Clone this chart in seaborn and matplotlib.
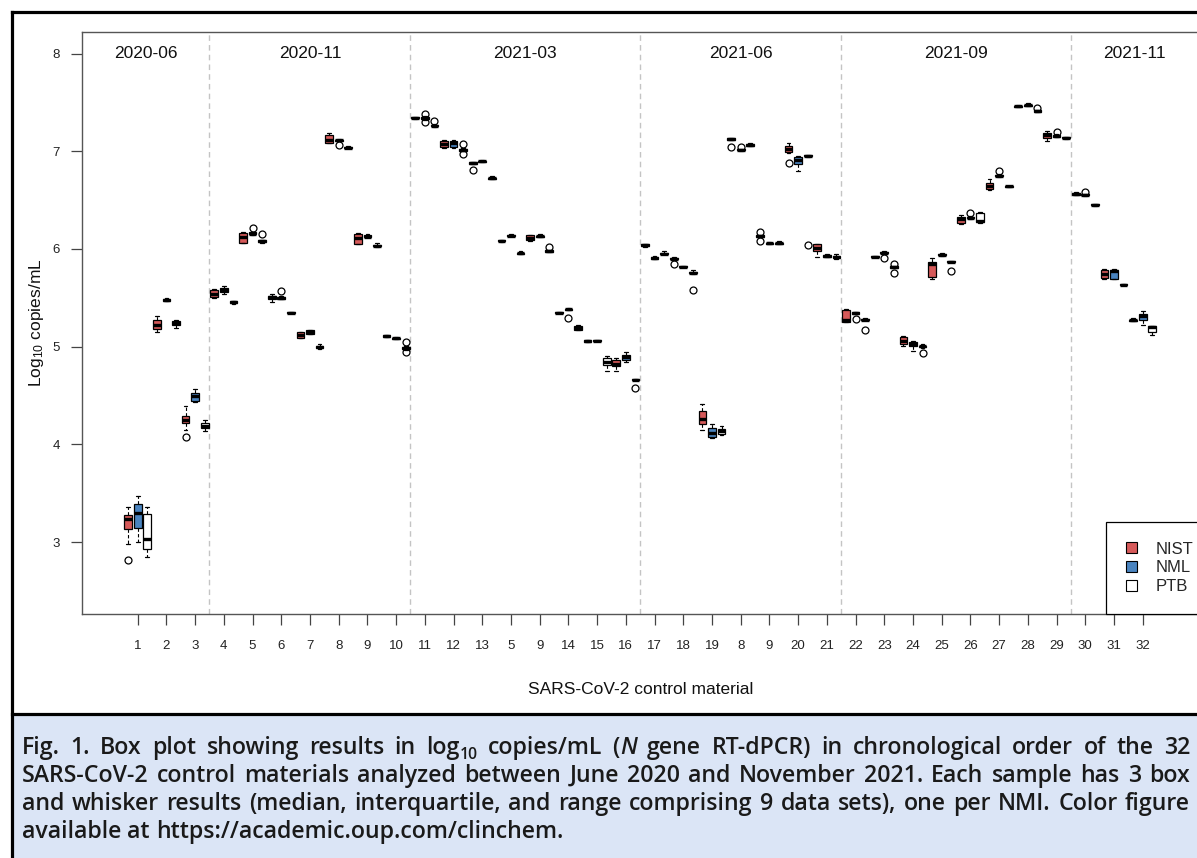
import matplotlib
matplotlib.use("Agg")
import numpy as np
import pandas as pd
import matplotlib.pyplot as plt
from matplotlib.lines import Line2D
from matplotlib.patches import Rectangle
from matplotlib.transforms import IdentityTransform
import seaborn as sns

# ---------------------------------------------------------------- data
labs = ["NIST", "NML", "PTB"]
lab_colors = {"NIST": "#d65a5a", "NML": "#4a84c0", "PTB": "#ffffff"}

sample_labels = ["1", "2", "3", "4", "5", "6", "7", "8", "9", "10", "11", "12",
                 "13", "5", "9", "14", "15", "16", "17", "18", "19", "8", "9",
                 "20", "21", "22", "23", "24", "25", "26", "27", "28", "29",
                 "30", "31", "32"]

periods = ["2020-06", "2020-11", "2021-03", "2021-06", "2021-09", "2021-11"]
period_sizes = [3, 7, 8, 7, 8, 3]

# (whisker low, Q1, median, Q3, whisker high) in log10 copies/mL
nist_stats = [
    (2.98, 3.13, 3.24, 3.28, 3.36), (5.15, 5.18, 5.22, 5.27, 5.31),
    (4.15, 4.22, 4.25, 4.295, 4.39), (5.50, 5.51, 5.54, 5.58, 5.59),
    (6.06, 6.065, 6.12, 6.168, 6.17), (5.46, 5.49, 5.506, 5.52, 5.54),
    (5.085, 5.09, 5.12, 5.15, 5.155), (7.08, 7.086, 7.12, 7.161, 7.188),
    (6.05, 6.055, 6.11, 6.157, 6.16), (5.10, 5.102, 5.109, 5.115, 5.12),
    (7.33, 7.335, 7.342, 7.35, 7.355), (7.03, 7.04, 7.075, 7.10, 7.11),
    (6.865, 6.868, 6.876, 6.885, 6.89), (6.075, 6.077, 6.081, 6.087, 6.09),
    (6.085, 6.09, 6.116, 6.14, 6.145), (5.343, 5.345, 5.348, 5.353, 5.356),
    (5.045, 5.047, 5.054, 5.065, 5.068), (4.75, 4.80, 4.825, 4.865, 4.88),
    (6.025, 6.028, 6.037, 6.05, 6.052), (5.89, 5.893, 5.90, 5.91, 5.915),
    (4.15, 4.205, 4.26, 4.34, 4.41), (7.115, 7.118, 7.127, 7.135, 7.14),
    (6.12, 6.125, 6.133, 6.14, 6.145), (6.98, 6.99, 7.027, 7.058, 7.08),
    (5.92, 5.979, 6.013, 6.048, 6.05), (5.25, 5.253, 5.27, 5.38, 5.39),
    (5.915, 5.917, 5.921, 5.928, 5.932), (5.003, 5.027, 5.06, 5.095, 5.105),
    (5.688, 5.712, 5.85, 5.87, 5.904), (6.253, 6.27, 6.305, 6.33, 6.345),
    (6.603, 6.613, 6.647, 6.675, 6.716), (7.452, 7.455, 7.459, 7.465, 7.468),
    (7.10, 7.137, 7.164, 7.185, 7.205), (6.553, 6.556, 6.561, 6.568, 6.578),
    (5.69, 5.70, 5.739, 5.78, 5.79), (5.262, 5.265, 5.27, 5.277, 5.293),
]
nml_stats = [
    (3.00, 3.145, 3.30, 3.395, 3.47), (5.465, 5.47, 5.48, 5.49, 5.495),
    (4.43, 4.44, 4.50, 4.53, 4.57), (5.54, 5.56, 5.58, 5.60, 5.62),
    (6.14, 6.15, 6.157, 6.17, 6.175), (5.485, 5.49, 5.50, 5.51, 5.515),
    (5.125, 5.13, 5.15, 5.17, 5.175), (7.10, 7.105, 7.11, 7.12, 7.125),
    (6.118, 6.12, 6.127, 6.138, 6.157), (5.08, 5.082, 5.088, 5.094, 5.10),
    (7.322, 7.33, 7.34, 7.35, 7.36), (7.03, 7.045, 7.08, 7.10, 7.11),
    (6.885, 6.89, 6.897, 6.905, 6.91), (6.13, 6.132, 6.136, 6.142, 6.155),
    (6.125, 6.127, 6.13, 6.137, 6.15), (5.375, 5.378, 5.383, 5.39, 5.395),
    (5.055, 5.057, 5.06, 5.065, 5.068), (4.84, 4.86, 4.89, 4.92, 4.95),
    (5.895, 5.897, 5.904, 5.92, 5.925), (5.812, 5.815, 5.82, 5.826, 5.83),
    (4.07, 4.078, 4.122, 4.164, 4.21), (7.005, 7.008, 7.014, 7.02, 7.022),
    (6.05, 6.053, 6.058, 6.065, 6.075), (6.80, 6.87, 6.911, 6.945, 6.955),
    (5.92, 5.922, 5.928, 5.935, 5.952), (5.335, 5.338, 5.345, 5.352, 5.36),
    (5.955, 5.957, 5.962, 5.97, 5.975), (4.96, 5.003, 5.023, 5.047, 5.054),
    (5.932, 5.934, 5.938, 5.945, 5.96), (6.31, 6.313, 6.32, 6.33, 6.335),
    (6.74, 6.743, 6.75, 6.758, 6.762), (7.46, 7.463, 7.469, 7.476, 7.495),
    (7.145, 7.15, 7.16, 7.168, 7.172), (6.547, 6.55, 6.554, 6.56, 6.563),
    (5.69, 5.694, 5.773, 5.787, 5.79), (5.218, 5.276, 5.31, 5.335, 5.369),
]
ptb_stats = [
    (2.85, 2.93, 3.035, 3.29, 3.36), (5.19, 5.22, 5.24, 5.26, 5.27),
    (4.14, 4.17, 4.19, 4.22, 4.25), (5.44, 5.445, 5.455, 5.465, 5.47),
    (6.065, 6.07, 6.08, 6.09, 6.095), (5.34, 5.343, 5.349, 5.355, 5.358),
    (4.98, 4.982, 4.993, 5.005, 5.03), (7.03, 7.032, 7.038, 7.045, 7.05),
    (6.024, 6.026, 6.034, 6.043, 6.06), (4.965, 4.98, 4.99, 5.00, 5.01),
    (7.245, 7.255, 7.262, 7.27, 7.28), (7.0, 7.005, 7.013, 7.025, 7.03),
    (6.715, 6.717, 6.722, 6.73, 6.745), (5.945, 5.948, 5.955, 5.962, 5.98),
    (5.965, 5.967, 5.975, 5.985, 5.99), (5.17, 5.175, 5.19, 5.21, 5.225),
    (4.75, 4.81, 4.848, 4.88, 4.90), (4.655, 4.657, 4.662, 4.668, 4.672),
    (5.945, 5.948, 5.952, 5.96, 5.975), (5.745, 5.75, 5.757, 5.765, 5.785),
    (4.095, 4.11, 4.136, 4.16, 4.19), (7.055, 7.058, 7.065, 7.072, 7.08),
    (6.05, 6.053, 6.058, 6.065, 6.08), (6.945, 6.948, 6.955, 6.962, 6.965),
    (5.90, 5.912, 5.92, 5.93, 5.95), (5.27, 5.272, 5.277, 5.284, 5.29),
    (5.805, 5.808, 5.815, 5.822, 5.825), (4.99, 4.995, 5.003, 5.01, 5.03),
    (5.866, 5.868, 5.87, 5.872, 5.874), (6.27, 6.277, 6.29, 6.373, 6.375),
    (6.632, 6.635, 6.64, 6.645, 6.648), (7.40, 7.403, 7.41, 7.418, 7.42),
    (7.128, 7.131, 7.137, 7.143, 7.146), (6.443, 6.446, 6.451, 6.457, 6.46),
    (5.63, 5.632, 5.636, 5.641, 5.644), (5.116, 5.15, 5.205, 5.21, 5.212),
]

# outlying results, keyed by sample position
nist_outliers = {0: [2.82], 2: [4.08], 12: [6.808], 19: [5.85], 21: [7.04],
                 22: [6.175, 6.08], 23: [6.88]}
nml_outliers = {4: [6.21], 5: [5.57], 7: [7.06], 10: [7.385, 7.295],
                15: [5.297], 21: [7.04], 25: [5.287], 26: [5.91], 29: [6.363],
                30: [6.80], 32: [7.20], 33: [6.58]}
ptb_outliers = {4: [6.157], 9: [5.045, 4.947], 10: [7.31], 11: [7.075, 6.97],
                14: [6.02], 17: [4.58], 19: [5.585], 23: [6.04], 25: [5.174],
                26: [5.85, 5.756], 27: [4.94], 28: [5.774], 31: [7.445]}


def box_observations(lo, q1, med, q3, hi, outs):
    """17 observations whose linear quartiles and 1.5 IQR whiskers
    reproduce the given summary, with the outliers beyond the fences."""
    low = sorted(o for o in outs if o < q1) + [lo]
    high = [hi] + sorted(o for o in outs if o > q3)
    return low + [q1] * (8 - len(low)) + [med] + [q3] * (8 - len(high)) + high


rows = []
for lab, stats, outs in [("NIST", nist_stats, nist_outliers),
                         ("NML", nml_stats, nml_outliers),
                         ("PTB", ptb_stats, ptb_outliers)]:
    for i, s in enumerate(stats):
        for v in box_observations(*s, outs.get(i, [])):
            rows.append({"sample": i, "lab": lab, "value": v})
df = pd.DataFrame(rows)

# ---------------------------------------------------------------- style
sns.set_theme(style="ticks")
plt.rcParams["font.family"] = ["Liberation Sans", "DejaVu Sans"]
plt.rcParams["mathtext.fontset"] = "custom"
plt.rcParams["mathtext.rm"] = "Liberation Sans"
plt.rcParams["mathtext.it"] = "Liberation Sans:italic"

W, H = 1197, 858
fig = plt.figure(figsize=(W / 100, H / 100), dpi=100, facecolor="white")

ax_l, ax_r, ax_t, ax_b = 82, 1198.4, 32, 614
ax = fig.add_axes([ax_l / W, 1 - ax_b / H, (ax_r - ax_l) / W, (ax_b - ax_t) / H])

sns.boxplot(
    data=df, x="sample", y="value", hue="lab", hue_order=labs,
    palette=lab_colors, saturation=1, width=1.0, gap=0.2, dodge=True,
    whis=1.5, linecolor="black", linewidth=0.9, ax=ax,
    medianprops=dict(linewidth=2.4, solid_capstyle="butt"),
    whiskerprops=dict(linestyle=(0, (3, 2)), linewidth=0.8),
    capprops=dict(linewidth=0.9),
    flierprops=dict(marker="o", markersize=5, markerfacecolor="none",
                    markeredgecolor="black", markeredgewidth=0.9),
)

ax.set_xlim(-1.94, 36.94)
ax.set_ylim(2.265, 8.22)
ax.set_xticks(range(len(sample_labels)))
ax.set_xticklabels(sample_labels)
ax.set_yticks([3, 4, 5, 6, 7, 8])
ax.set_yticklabels(["3", "4", "5", "6", "7", "8"])
ax.set_xlabel("")
ax.set_ylabel("")
ax.tick_params(axis="both", direction="out", length=8, width=0.9,
               color="#444444", labelsize=9.5, labelcolor="#222222")
ax.tick_params(axis="x", pad=11)
ax.tick_params(axis="y", pad=8)
for sp in ax.spines.values():
    sp.set_visible(True)
    sp.set_color("#555555")
    sp.set_linewidth(1.0)

# period separators and headings
bounds = np.cumsum(period_sizes)[:-1] - 0.5
for b in bounds:
    ax.axvline(b, color="#c4c4c4", linestyle=(0, (4, 3)), linewidth=1.0, zorder=0)
edges = [ax.get_xlim()[0]] + list(bounds) + [ax.get_xlim()[1]]
for name, a, b in zip(periods, edges[:-1], edges[1:]):
    ax.text((a + b) / 2, 8.0, name, ha="center", va="center", fontsize=12.5,
            color="#111111")

# legend
handles, labels = ax.get_legend_handles_labels()
if ax.get_legend() is not None:
    ax.get_legend().remove()
leg_x = (1106 - ax_l) / (ax_r - ax_l)
leg = ax.legend(handles, labels, loc="lower left", bbox_to_anchor=(leg_x, 0),
                borderaxespad=0, frameon=True, fancybox=False, fontsize=12,
                handlelength=0.65, handleheight=0.65, handletextpad=1.1,
                labelspacing=0.22, borderpad=1.2)
leg.get_frame().set_edgecolor("black")
leg.get_frame().set_linewidth(0.9)
leg.get_frame().set_alpha(1)
for h in leg.legend_handles:
    h.set_edgecolor("black")
    h.set_linewidth(0.8)

# axis titles
fig.text(36 / W, 1 - (ax_t + ax_b) / 2 / H, "Log$_{10}$ copies/mL", rotation=90,
         ha="center", va="center", fontsize=12.5, color="#111111")
fig.text((ax_l + ax_r) / 2 / W, 1 - 689 / H, "SARS-CoV-2 control material",
         ha="center", va="center", fontsize=12.5, color="#111111")

# ---------------------------------------------------------------- frame + caption panel
sep_y = 714
fig.patches.append(Rectangle((12 / W, 0), 1 - 12 / W, 1 - sep_y / H,
                             transform=fig.transFigure, facecolor="#dbe5f6",
                             edgecolor="none", zorder=0))
frame_kw = dict(color="black", linewidth=2.3, transform=fig.transFigure,
                solid_capstyle="projecting")
fig.lines.append(Line2D([12 / W, 1], [1 - 12 / H, 1 - 12 / H], **frame_kw))
fig.lines.append(Line2D([12 / W, 12 / W], [0, 1 - 12 / H], **frame_kw))
fig.lines.append(Line2D([12 / W, 1], [1 - sep_y / H, 1 - sep_y / H], **frame_kw))

cap_font = dict(family=["Open Sans", "DejaVu Sans"], weight="semibold",
                color="#1a1a1a")
sub = {"rel": 0.68, "dy": -0.30}
ital = {"style": "italic"}

caption_lines = [
    [["Fig."], ["1."], ["Box"], ["plot"], ["showing"], ["results"], ["in"],
     ["log", ("10", sub)], ["copies/mL"], ["(", ("N", ital)], ["gene"],
     ["RT-dPCR)"], ["in"], ["chronological"], ["order"], ["of"], ["the"], ["32"]],
    [[w] for w in "SARS-CoV-2 control materials analyzed between June 2020 "
     "and November 2021. Each sample has 3 box".split()],
    [[w] for w in "and whisker results (median, interquartile, and range "
     "comprising 9 data sets), one per NMI. Color figure".split()],
    [[w] for w in "available at https://academic.oup.com/clinchem.".split()],
]
baselines = [754, 782, 810, 838]
x0, x1 = 22, 1190

fig.canvas.draw()
renderer = fig.canvas.get_renderer()


def seg_props(seg, size):
    if isinstance(seg, tuple):
        txt, opt = seg
    else:
        txt, opt = seg, {}
    kw = dict(cap_font)
    kw["size"] = size * opt.get("rel", 1.0)
    if "style" in opt:
        kw["style"] = opt["style"]
    return txt, kw, opt.get("dy", 0) * size


def text_width(txt, kw):
    t = fig.text(0, 0, txt, transform=IdentityTransform(), **kw)
    w = t.get_window_extent(renderer).width
    t.remove()
    return w


def seg_width(seg, size):
    txt, kw, _ = seg_props(seg, size)
    return text_width(txt, kw)


def space_width(size):
    kw = dict(cap_font, size=size)
    return text_width("n n", kw) - 2 * text_width("n", kw)


def natural_width(words, size):
    total = sum(seg_width(s, size) for w in words for s in w)
    return total + space_width(size) * (len(words) - 1)


# caption size chosen so the widest justified line needs only a light stretch
base_size = 15.0
widest = max(natural_width(w, base_size) for w in caption_lines[:-1])
cap_size = base_size * (x1 - x0 - 12) / widest

for li, (words, base) in enumerate(zip(caption_lines, baselines)):
    widths = [[seg_width(s, cap_size) for s in w] for w in words]
    total = sum(sum(ws) for ws in widths)
    if li < len(caption_lines) - 1:
        gap = (x1 - x0 - total) / (len(words) - 1)
    else:
        gap = space_width(cap_size)
    x = x0
    for w, ws in zip(words, widths):
        for s, sw in zip(w, ws):
            txt, kw, dy = seg_props(s, cap_size)
            fig.text(x, H - base + dy, txt, transform=IdentityTransform(),
                     ha="left", va="baseline", **kw)
            x += sw
        x += gap

fig.savefig("out.png", dpi=100, facecolor="white")
